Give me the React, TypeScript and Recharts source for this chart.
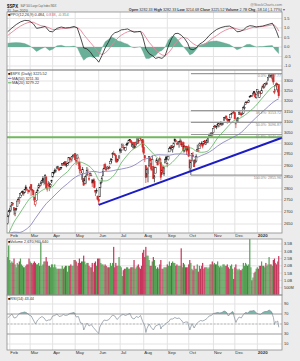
import React from 'react';
import { ComposedChart, Bar, Line, Area, XAxis, YAxis, CartesianGrid, ReferenceLine } from 'recharts';

const FONT = '"Liberation Sans", Arial, Helvetica, sans-serif';

// trading-day index: 0 = 30-Jan-2019 ... 253 = 31-Jan-2020
const monthTicks = [2, 21, 42, 63, 85, 105, 127, 149, 169, 192, 212, 233];
const monthLabels = ['Feb', 'Mar', 'Apr', 'May', 'Jun', 'Jul', 'Aug', 'Sep', 'Oct', 'Nov', 'Dec', '2020'];

const opens = [
  2653, 2685,
  2702, 2706, 2728, 2735, 2717, 2693, 2713, 2722, 2751, 2744, 2760, 2770, 2780, 2781, 2780, 2805, 2792, 2787, 2789,
  2798, 2815, 2795, 2791, 2762, 2731, 2747, 2787, 2800, 2811, 2811, 2822, 2841, 2832, 2819, 2848, 2797, 2812, 2820, 2809, 2829,
  2848, 2868, 2876, 2874, 2885, 2888, 2886, 2882, 2891, 2901, 2908, 2912, 2916, 2904, 2899, 2910, 2935, 2928, 2925, 2941, 2938,
  2952, 2922, 2929, 2908, 2913, 2880, 2860, 2863, 2841, 2821, 2820, 2856, 2858, 2841, 2855, 2856, 2836, 2833, 2830, 2790, 2786, 2766,
  2752, 2763, 2818, 2828, 2853, 2886, 2903, 2882, 2886, 2887, 2889, 2906, 2920, 2949, 2953, 2951, 2945, 2926, 2919, 2932,
  2972, 2965, 2979, 2985, 2980, 2966, 2989, 2999, 3003, 3018, 3013, 3006, 2979, 3004, 2981, 2995, 2999, 3017, 3013, 3024, 3007, 3017,
  2981, 2943, 2898, 2862, 2858, 2897, 2931, 2907, 2880, 2895, 2846, 2865, 2913, 2919, 2923, 2931, 2911, 2866, 2893, 2862, 2910, 2937,
  2909, 2925, 2960, 2980, 2988, 2971, 2982, 3019, 3012, 2996, 2996, 3002, 3010, 3009, 2984, 3002, 2969, 2985, 2985, 2968,
  2983, 2924, 2885, 2918, 2945, 2920, 2912, 2919, 2963, 2966, 2974, 2990, 3000, 2997, 2996, 3011, 2994, 3015, 3004, 3033, 3036, 3039, 3047,
  3050, 3078, 3081, 3075, 3088, 3082, 3081, 3089, 3084, 3090, 3108, 3118, 3128, 3114, 3108, 3112, 3118, 3135, 3145, 3148,
  3144, 3087, 3103, 3119, 3134, 3141, 3136, 3135, 3141, 3167, 3183, 3195, 3196, 3193, 3223, 3227, 3226, 3227, 3248, 3240, 3216,
  3245, 3227, 3218, 3242, 3238, 3266, 3281, 3271, 3285, 3283, 3303, 3323, 3321, 3330, 3315, 3334, 3248, 3255, 3289, 3256, 3282,
];
const highs = [
  2690, 2708,
  2716, 2725, 2738, 2739, 2719, 2709, 2718, 2748, 2762, 2761, 2776, 2788, 2790, 2787, 2794, 2814, 2803, 2795, 2792,
  2809, 2816, 2796, 2791, 2763, 2744, 2785, 2798, 2821, 2815, 2830, 2836, 2852, 2844, 2861, 2852, 2809, 2830, 2826, 2820, 2836,
  2869, 2872, 2886, 2881, 2893, 2896, 2891, 2889, 2893, 2910, 2909, 2916, 2918, 2908, 2910, 2937, 2936, 2933, 2940, 2949, 2949,
  2955, 2932, 2948, 2938, 2913, 2898, 2875, 2892, 2841, 2852, 2858, 2892, 2885, 2853, 2868, 2865, 2836, 2841, 2841, 2792, 2799, 2768,
  2763, 2804, 2827, 2852, 2885, 2905, 2911, 2888, 2896, 2894, 2898, 2931, 2931, 2958, 2965, 2955, 2947, 2932, 2929, 2943,
  2978, 2973, 2996, 2994, 2981, 2981, 3002, 3003, 3014, 3018, 3015, 3006, 2998, 3006, 2990, 3005, 3020, 3017, 3028, 3025, 3018, 3017,
  3013, 2945, 2898, 2885, 2892, 2938, 2936, 2911, 2944, 2895, 2857, 2893, 2932, 2923, 2928, 2939, 2928, 2880, 2899, 2891, 2931, 2941,
  2914, 2939, 2985, 2985, 2990, 2980, 3001, 3021, 3017, 3003, 3006, 3008, 3022, 3016, 2999, 3007, 2990, 2988, 2988, 2984,
  2993, 2925, 2911, 2953, 2960, 2926, 2929, 2949, 2993, 2972, 3003, 2998, 3008, 3000, 3007, 3014, 3005, 3016, 3028, 3044, 3047, 3050, 3047,
  3067, 3085, 3084, 3079, 3098, 3094, 3088, 3102, 3099, 3098, 3121, 3124, 3128, 3119, 3111, 3113, 3134, 3142, 3154, 3151,
  3144, 3094, 3120, 3120, 3150, 3149, 3143, 3143, 3177, 3183, 3198, 3198, 3198, 3206, 3226, 3227, 3226, 3240, 3248, 3241, 3232,
  3258, 3247, 3247, 3245, 3268, 3275, 3283, 3288, 3294, 3299, 3317, 3338, 3329, 3337, 3326, 3334, 3259, 3286, 3293, 3286, 3282,
];
const lows = [
  2648, 2678,
  2696, 2700, 2724, 2725, 2687, 2682, 2704, 2722, 2749, 2733, 2757, 2768, 2775, 2767, 2780, 2794, 2789, 2775, 2781,
  2790, 2767, 2782, 2768, 2729, 2722, 2746, 2786, 2799, 2804, 2809, 2821, 2823, 2812, 2817, 2800, 2785, 2809, 2787, 2799, 2822,
  2848, 2859, 2865, 2867, 2883, 2880, 2875, 2879, 2881, 2898, 2897, 2900, 2895, 2891, 2898, 2910, 2926, 2912, 2917, 2939, 2932,
  2924, 2901, 2929, 2898, 2863, 2873, 2836, 2826, 2811, 2821, 2816, 2856, 2854, 2831, 2855, 2852, 2805, 2820, 2799, 2766, 2777, 2750,
  2729, 2763, 2801, 2822, 2853, 2884, 2878, 2874, 2883, 2880, 2887, 2905, 2911, 2932, 2946, 2944, 2911, 2912, 2918, 2930,
  2953, 2955, 2978, 2967, 2970, 2963, 2985, 2989, 3002, 3010, 3002, 2984, 2976, 2975, 2977, 2988, 2996, 2996, 3013, 3014, 3000, 2959,
  2946, 2914, 2822, 2847, 2825, 2891, 2900, 2874, 2877, 2839, 2825, 2865, 2913, 2900, 2917, 2905, 2834, 2857, 2860, 2853, 2910, 2914,
  2891, 2921, 2960, 2972, 2966, 2957, 2981, 3004, 3003, 2991, 2993, 2979, 3003, 2985, 2983, 2957, 2958, 2970, 2946, 2968,
  2938, 2874, 2856, 2918, 2938, 2892, 2907, 2913, 2963, 2960, 2974, 2986, 2992, 2976, 2995, 2995, 2991, 3000, 3002, 3032, 3034, 3026, 3024,
  3050, 3074, 3072, 3065, 3080, 3073, 3076, 3085, 3083, 3084, 3105, 3112, 3112, 3091, 3095, 3097, 3118, 3132, 3143, 3140,
  3111, 3070, 3103, 3099, 3134, 3135, 3125, 3133, 3138, 3159, 3183, 3191, 3191, 3192, 3217, 3222, 3221, 3227, 3235, 3216, 3212,
  3235, 3226, 3215, 3233, 3236, 3264, 3260, 3268, 3277, 3282, 3302, 3319, 3316, 3320, 3302, 3281, 3234, 3253, 3272, 3243, 3215,
];
const closes = [
  2681, 2704,
  2707, 2725, 2738, 2732, 2706, 2708, 2710, 2745, 2753, 2746, 2776, 2780, 2785, 2775, 2793, 2796, 2794, 2792, 2784,
  2804, 2793, 2790, 2771, 2749, 2743, 2783, 2792, 2811, 2808, 2822, 2833, 2833, 2824, 2855, 2801, 2798, 2818, 2805, 2815, 2834,
  2867, 2867, 2873, 2879, 2893, 2896, 2878, 2888, 2888, 2907, 2906, 2907, 2900, 2905, 2908, 2934, 2927, 2926, 2940, 2943, 2946,
  2924, 2918, 2946, 2932, 2884, 2879, 2871, 2881, 2812, 2834, 2851, 2876, 2860, 2840, 2864, 2856, 2822, 2826, 2802, 2783, 2789, 2752,
  2744, 2803, 2826, 2843, 2873, 2887, 2886, 2880, 2892, 2887, 2890, 2918, 2926, 2954, 2950, 2945, 2917, 2914, 2925, 2942,
  2964, 2973, 2996, 2990, 2976, 2980, 2993, 3000, 3014, 3014, 3004, 2984, 2995, 2977, 2985, 3005, 3020, 3004, 3026, 3021, 3013, 2980,
  2954, 2932, 2845, 2882, 2884, 2938, 2919, 2883, 2926, 2841, 2848, 2889, 2924, 2901, 2924, 2923, 2847, 2878, 2869, 2888, 2925, 2926,
  2906, 2938, 2976, 2979, 2978, 2979, 3001, 3010, 3007, 2998, 3006, 3007, 3007, 2992, 2992, 2967, 2985, 2978, 2962, 2977,
  2940, 2888, 2911, 2952, 2939, 2893, 2919, 2938, 2970, 2966, 2996, 2990, 2998, 2986, 3007, 2996, 3005, 3010, 3023, 3039, 3037, 3047, 3038,
  3067, 3078, 3075, 3077, 3085, 3093, 3087, 3092, 3094, 3097, 3120, 3122, 3120, 3108, 3104, 3110, 3134, 3141, 3154, 3141,
  3114, 3093, 3113, 3117, 3146, 3136, 3133, 3142, 3169, 3169, 3191, 3193, 3191, 3205, 3221, 3224, 3223, 3240, 3240, 3221, 3231,
  3258, 3235, 3246, 3237, 3253, 3275, 3265, 3288, 3283, 3289, 3317, 3330, 3321, 3322, 3326, 3295, 3244, 3276, 3273, 3284, 3226,
];
// volume in billions
const volumes = [
  2.6, 3.4,
  2.4, 2.2, 2.3, 2.2, 2.5, 2.1, 1.9, 2.2, 2.1, 2.3, 2.5, 2.1, 2.0, 1.9, 1.9, 2.0, 2.1, 2.1, 2.5,
  2.3, 2.2, 2.1, 2.2, 2.3, 2.2, 2.1, 2.1, 2.2, 2.0, 3.6, 2.0, 2.1, 2.3, 2.3, 2.6, 2.3, 2.0, 2.0, 1.9, 2.1,
  2.1, 1.9, 2.1, 1.9, 1.8, 1.8, 1.8, 1.8, 1.8, 2.0, 1.8, 1.9, 2.0, 2.0, 1.6, 2.0, 2.0, 2.1, 2.0, 2.0, 2.4,
  2.4, 2.3, 2.0, 2.2, 2.5, 2.2, 2.3, 2.3, 2.7, 2.3, 2.1, 2.2, 2.2, 2.0, 1.9, 1.9, 2.2, 1.6, 2.2, 2.3, 2.0, 2.5,
  2.5, 2.5, 2.2, 2.1, 2.1, 2.0, 2.1, 2.0, 1.9, 1.9, 1.9, 2.2, 2.0, 2.2, 3.3, 1.9, 2.2, 2.0, 2.0, 2.6,
  2.0, 1.9, 1.3, 1.7, 1.8, 1.8, 1.9, 1.9, 1.8, 1.8, 1.9, 1.9, 1.9, 2.4, 1.8, 1.9, 2.0, 2.1, 1.9, 1.8, 2.0, 2.9,
  3.1, 2.6, 3.3, 2.7, 2.7, 2.4, 2.0, 2.0, 2.3, 2.6, 2.4, 2.0, 1.8, 1.9, 1.8, 2.1, 2.4, 1.8, 1.8, 1.9, 1.9, 1.9,
  2.1, 2.0, 2.3, 2.0, 2.2, 2.3, 2.2, 2.2, 2.0, 2.1, 2.0, 2.0, 2.0, 3.2, 1.9, 2.2, 2.1, 1.9, 1.9, 1.9,
  2.1, 2.4, 2.2, 1.8, 1.7, 2.0, 1.8, 1.8, 2.1, 1.6, 2.0, 1.8, 2.0, 2.2, 1.8, 1.9, 1.9, 1.9, 1.8, 1.9, 2.1, 2.1, 2.3,
  2.1, 2.2, 2.1, 2.1, 2.3, 2.0, 1.9, 2.0, 1.9, 2.1, 2.1, 2.0, 2.0, 2.1, 1.9, 1.8, 2.0, 2.1, 1.8, 1.1,
  1.9, 2.1, 1.8, 1.7, 1.8, 1.7, 1.7, 1.8, 2.2, 2.0, 2.2, 2.1, 2.0, 2.1, 3.9, 1.9, 1.0, 1.2, 1.5, 1.6, 1.8,
  1.9, 1.8, 2.0, 2.0, 2.3, 2.0, 2.0, 1.9, 2.2, 2.0, 2.1, 2.6, 2.1, 2.1, 2.0, 2.4, 2.5, 2.2, 2.1, 2.3, 2.67,
];

// moving averages (read every 5 sessions)
const maDays = [1, 6, 11, 16, 21, 26, 31, 36, 41, 46, 51, 56, 61, 66, 71, 76, 81, 86, 91, 96, 101, 106, 111, 116, 121, 126, 131, 136, 141, 146, 151, 156, 161, 166, 171, 176, 181, 186, 191, 196, 201, 206, 211, 216, 221, 226, 231, 236, 241, 246, 251, 253];
const ma20Values = [2612, 2658, 2691, 2726, 2757, 2769, 2787, 2799, 2804, 2830, 2853, 2872, 2902, 2916, 2909, 2896, 2871, 2831, 2831, 2841, 2867, 2910, 2941, 2968, 2983, 2999, 2977, 2951, 2927, 2895, 2903, 2925, 2952, 2978, 2978, 2963, 2958, 2962, 2988, 3025, 3052, 3080, 3105, 3115, 3130, 3151, 3174, 3205, 3236, 3265, 3278, 3279];
const ma50Values = [2611, 2617, 2616, 2625, 2643, 2674, 2705, 2734, 2756, 2779, 2801, 2820, 2840, 2855, 2862, 2870, 2873, 2868, 2873, 2874, 2879, 2883, 2888, 2895, 2908, 2924, 2931, 2943, 2947, 2946, 2945, 2950, 2951, 2949, 2943, 2935, 2944, 2954, 2968, 2987, 3003, 3016, 3029, 3042, 3064, 3091, 3116, 3140, 3163, 3187, 3206, 3211];

// PPO(12,26,9)
const ppoDays = [0, 4, 8, 12, 16, 20, 24, 27, 31, 35, 39, 42, 46, 50, 54, 58, 62, 65, 68, 71, 74, 77, 80, 83, 85, 88, 91, 94, 97, 100, 103, 106, 109, 112, 115, 118, 121, 124, 126, 129, 132, 135, 138, 141, 144, 147, 150, 153, 156, 159, 162, 165, 168, 170, 173, 176, 179, 182, 185, 188, 191, 195, 199, 203, 207, 211, 214, 217, 220, 223, 226, 229, 232, 235, 238, 241, 244, 247, 249, 251, 253];
const ppoValues = [0.80, 1.00, 1.18, 1.32, 1.40, 1.38, 1.22, 0.98, 1.02, 1.08, 0.82, 0.80, 0.98, 1.05, 1.00, 1.02, 1.08, 1.00, 0.50, -0.05, -0.10, -0.25, -0.50, -0.65, -0.80, -0.45, -0.05, 0.25, 0.60, 0.75, 0.80, 0.90, 0.92, 0.95, 0.85, 0.78, 0.80, 0.82, 0.55, -0.10, -0.35, -0.45, -0.60, -0.55, -0.60, -0.45, 0.05, 0.45, 0.70, 0.72, 0.62, 0.45, 0.20, -0.10, -0.15, -0.05, 0.15, 0.25, 0.40, 0.60, 0.75, 0.92, 1.02, 1.08, 1.10, 0.98, 0.80, 0.82, 0.90, 1.05, 1.12, 1.10, 1.05, 1.08, 1.10, 1.15, 1.20, 1.25, 1.05, 0.80, 0.484];
const ppoSignal = [0.60, 0.78, 0.95, 1.10, 1.22, 1.30, 1.30, 1.22, 1.12, 1.08, 1.00, 0.92, 0.92, 0.96, 0.98, 1.00, 1.03, 1.03, 0.90, 0.65, 0.45, 0.25, 0.05, -0.15, -0.30, -0.40, -0.32, -0.15, 0.08, 0.30, 0.48, 0.62, 0.72, 0.80, 0.84, 0.82, 0.81, 0.81, 0.76, 0.50, 0.25, 0.05, -0.15, -0.30, -0.42, -0.45, -0.32, -0.10, 0.15, 0.35, 0.48, 0.50, 0.45, 0.32, 0.18, 0.08, 0.05, 0.10, 0.20, 0.32, 0.45, 0.60, 0.76, 0.88, 0.97, 1.00, 0.95, 0.90, 0.88, 0.92, 0.98, 1.03, 1.05, 1.06, 1.08, 1.10, 1.13, 1.17, 1.15, 1.03, 0.838];
const ppoHist = [0.20, 0.22, 0.23, 0.22, 0.18, 0.08, -0.08, -0.24, -0.10, 0.00, -0.18, -0.12, 0.06, 0.09, 0.02, 0.02, 0.05, -0.03, -0.40, -0.70, -0.55, -0.50, -0.55, -0.50, -0.50, -0.05, 0.27, 0.40, 0.52, 0.45, 0.32, 0.28, 0.20, 0.15, 0.01, -0.04, -0.01, 0.01, -0.21, -0.60, -0.60, -0.50, -0.45, -0.25, -0.18, 0.00, 0.37, 0.55, 0.55, 0.37, 0.14, -0.05, -0.25, -0.42, -0.33, -0.13, 0.10, 0.15, 0.20, 0.28, 0.30, 0.32, 0.26, 0.20, 0.13, -0.02, -0.15, -0.08, 0.02, 0.13, 0.14, 0.07, 0.00, 0.02, 0.02, 0.05, 0.07, 0.08, -0.10, -0.23, -0.354];

// RSI(14)
const rsiDays = [0, 2, 4, 6, 8, 10, 12, 14, 16, 18, 20, 22, 24, 26, 28, 30, 32, 34, 36, 38, 40, 42, 44, 46, 48, 50, 52, 54, 56, 58, 60, 62, 64, 66, 68, 70, 71, 72, 74, 76, 78, 80, 82, 84, 85, 86, 88, 90, 92, 94, 96, 98, 100, 102, 104, 106, 108, 110, 112, 114, 116, 118, 120, 122, 124, 126, 128, 129, 130, 132, 134, 136, 138, 140, 142, 143, 144, 146, 148, 150, 152, 154, 156, 158, 160, 162, 164, 166, 168, 170, 172, 174, 176, 178, 180, 182, 184, 186, 188, 190, 192, 194, 196, 198, 200, 202, 204, 206, 208, 210, 212, 213, 214, 216, 218, 220, 222, 224, 226, 228, 230, 232, 234, 236, 238, 240, 242, 244, 246, 248, 249, 250, 251, 252, 253];
const rsiValues = [62, 66, 70, 62, 63, 69, 72, 73, 74, 72, 68, 66, 58, 50, 58, 62, 65, 62, 56, 58, 58, 66, 67, 70, 65, 66, 69, 67, 68, 71, 72, 73, 64, 65, 52, 51, 38, 43, 52, 46, 49, 43, 38, 33, 31, 44, 52, 58, 57, 58, 63, 68, 66, 59, 63, 68, 69, 67, 69, 71, 62, 60, 65, 63, 67, 55, 46, 33, 41, 50, 43, 38, 46, 48, 50, 40, 45, 47, 52, 54, 60, 60, 63, 61, 62, 58, 52, 54, 54, 38, 51, 42, 50, 54, 57, 56, 58, 61, 66, 67, 71, 72, 73, 72, 73, 76, 74, 66, 72, 75, 60, 53, 58, 64, 62, 69, 73, 72, 76, 76, 77, 72, 70, 69, 73, 75, 75, 78, 75, 63, 49, 55, 54, 56, 43.44];

const priceTicks = [2650, 2700, 2750, 2800, 2850, 2900, 2950, 3000, 3050, 3100, 3150, 3200, 3250, 3300];
const ppoTicks = [-1, -0.5, 0, 0.5, 1, 1.5];
const volTicks = [0.5, 1, 1.5, 2, 2.5, 3, 3.5];
const rsiTicks = [10, 30, 50, 70, 90];

const fibLevels = [
  { v: 3337.77, label: '0.0%: 3337.77' },
  { v: 3153.72, label: '38.2%: 3153.72' },
  { v: 3096.87, label: '50.0%: 3096.87' },
  { v: 3040.01, label: '61.8%: 3040.01' },
  { v: 2855.96, label: '100.0%: 2855.96' },
];
const fibStart = 171; // 3-Oct-2019
const trendStart = { i: 85, v: 2729 };
const trendEnd = { i: 256, v: 3025 };
const resistance = 3027;

const X_DOMAIN = [-0.6, 256];

const data: any[] = closes.map((c, i) => ({
  i,
  open: opens[i],
  high: highs[i],
  low: lows[i],
  close: c,
  range: [lows[i], highs[i]],
  up: i === 0 ? c >= opens[i] : c >= closes[i - 1],
  vol: volumes[i],
  ma20: null,
  ma50: null,
  ppo: null,
  sig: null,
  hist: null,
  rsi: null,
  rsiHi: null,
}));
maDays.forEach((d, k) => {
  if (data[d]) {
    data[d].ma20 = ma20Values[k];
    data[d].ma50 = ma50Values[k];
  }
});
ppoDays.forEach((d, k) => {
  if (data[d]) {
    data[d].ppo = ppoValues[k];
    data[d].sig = ppoSignal[k];
    data[d].hist = ppoHist[k];
  }
});
rsiDays.forEach((d, k) => {
  if (data[d]) {
    data[d].rsi = rsiValues[k];
    data[d].rsiHi = [70, Math.max(70, rsiValues[k])];
  }
});

const UP = '#1a1a1a';
const DOWN = '#d42a2a';
const VOL_UP = '#54a054';
const VOL_DOWN = '#c8345c';

const Candle = (props: any) => {
  const { x, y, width, height } = props;
  const p = props.payload || props;
  if (x == null || y == null || !isFinite(y) || !isFinite(height)) return null;
  const top = Math.min(y, y + height);
  const bot = Math.max(y, y + height);
  const lh = Math.log(p.high);
  const ll = Math.log(p.low);
  const span = lh - ll || 1;
  const py = (v: number) => top + ((lh - Math.log(v)) / span) * (bot - top);
  const cx = x + width / 2;
  const yo = py(p.open);
  const yc = py(p.close);
  const color = p.up ? UP : DOWN;
  const bt = Math.min(yo, yc);
  const bh = Math.max(Math.abs(yo - yc), 0.7);
  const hollow = p.close >= p.open;
  return (
    <g>
      <line x1={cx} x2={cx} y1={top} y2={bot} stroke={color} strokeWidth={0.7} />
      <rect x={cx - 0.75} y={bt} width={1.5} height={bh} fill={hollow ? '#ffffff' : color} stroke={color} strokeWidth={0.45} />
    </g>
  );
};

const VolBar = (props: any) => {
  const { x, y, width, height } = props;
  const p = props.payload || props;
  if (x == null || y == null || !isFinite(height)) return null;
  const cx = x + width / 2;
  return <rect x={cx - 0.6} y={Math.min(y, y + height)} width={1.2} height={Math.abs(height)} fill={p.up ? VOL_UP : VOL_DOWN} />;
};

const MonthTick = (props: any) => {
  const { x, y, payload } = props;
  const k = monthTicks.indexOf(payload.value);
  const label = monthLabels[k] || '';
  return (
    <text x={x + 0.5} y={y + 4.3} fontSize={4.4} fill="#333" fontFamily={FONT} fontWeight={label === '2020' ? 'bold' : 'normal'}>
      {label}
    </text>
  );
};

const yTick = { fontSize: 3.9, fill: '#333', fontFamily: FONT };
const GRID = '#e3e3e3';
const MARGIN = { top: 0, right: 0, bottom: 0, left: 7 };

function PPOPanel() {
  return (
    <ComposedChart width={300} height={58} data={data} margin={MARGIN}>
      <CartesianGrid stroke={GRID} horizontalValues={ppoTicks} verticalValues={monthTicks} />
      <XAxis dataKey="i" type="number" domain={X_DOMAIN} ticks={monthTicks} hide allowDataOverflow />
      <YAxis orientation="right" width={18} type="number" domain={[-1.21, 1.84]} ticks={ppoTicks} interval={0} allowDataOverflow
        tick={yTick} tickSize={0} tickMargin={2} axisLine={false} tickLine={false} tickFormatter={(v: number) => v.toFixed(1)} />
      <Area dataKey="hist" type="linear" connectNulls baseValue={0} fill="#5aa78e" fillOpacity={0.9} stroke="#4b9880" strokeWidth={0.3} isAnimationActive={false} />
      <Line dataKey="sig" type="linear" connectNulls dot={false} stroke="#e3869a" strokeWidth={0.9} isAnimationActive={false} />
      <Line dataKey="ppo" type="linear" connectNulls dot={false} stroke="#222" strokeWidth={0.8} isAnimationActive={false} />
    </ComposedChart>
  );
}

function PricePanel() {
  return (
    <ComposedChart width={300} height={169} data={data} margin={MARGIN}>
      <CartesianGrid stroke={GRID} horizontalValues={priceTicks} verticalValues={monthTicks} />
      <XAxis dataKey="i" type="number" domain={X_DOMAIN} ticks={monthTicks} interval={0} allowDataOverflow height={6}
        axisLine={false} tickLine={false} tickSize={0} tickMargin={0} tick={<MonthTick />} />
      <YAxis orientation="right" width={18} type="number" scale="log" domain={[2613.7, 3356.2]} ticks={priceTicks} interval={0} allowDataOverflow
        tick={yTick} tickSize={0} tickMargin={2} axisLine={false} tickLine={false} />
      <ReferenceLine y={resistance} stroke="#72b85e" strokeWidth={2} />
      {fibLevels.map((f) => (
        <ReferenceLine key={f.label} segment={[{ x: fibStart, y: f.v }, { x: X_DOMAIN[1], y: f.v }]} stroke="#9a9a9a" strokeWidth={1.2}
          label={{ value: f.label, position: 'insideTopRight', fontSize: 3.6, fill: '#888', offset: 1 }} />
      ))}
      <Line dataKey="ma50" type="monotone" connectNulls dot={false} stroke="#7d78b8" strokeWidth={0.8} isAnimationActive={false} />
      <Line dataKey="ma20" type="monotone" connectNulls dot={false} stroke="#5cb35c" strokeWidth={0.8} isAnimationActive={false} />
      <Bar dataKey="range" barSize={2} shape={<Candle />} isAnimationActive={false} />
      <ReferenceLine segment={[{ x: trendStart.i, y: trendStart.v }, { x: trendEnd.i, y: trendEnd.v }]} stroke="#1c1cc4" strokeWidth={2} />
    </ComposedChart>
  );
}

function VolumePanel() {
  return (
    <ComposedChart width={300} height={56} data={data} margin={MARGIN}>
      <CartesianGrid stroke={GRID} horizontalValues={volTicks} verticalValues={monthTicks} />
      <XAxis dataKey="i" type="number" domain={X_DOMAIN} ticks={monthTicks} hide allowDataOverflow />
      <YAxis orientation="right" width={18} type="number" domain={[0, 3.84]} ticks={volTicks} interval={0} allowDataOverflow
        tick={yTick} tickSize={0} tickMargin={2} axisLine={false} tickLine={false}
        tickFormatter={(v: number) => (v < 1 ? `${Math.round(v * 1000)}M` : `${v.toFixed(1)}B`)} />
      <Bar dataKey="vol" barSize={1.2} shape={<VolBar />} isAnimationActive={false} />
    </ComposedChart>
  );
}

function RSIPanel() {
  return (
    <ComposedChart width={300} height={63} data={data} margin={MARGIN}>
      <CartesianGrid stroke={GRID} horizontalValues={rsiTicks} verticalValues={monthTicks} />
      <XAxis dataKey="i" type="number" domain={X_DOMAIN} ticks={monthTicks} interval={0} allowDataOverflow height={8}
        axisLine={false} tickLine={false} tickSize={0} tickMargin={0} tick={<MonthTick />} />
      <YAxis orientation="right" width={18} type="number" domain={[-2, 108]} ticks={rsiTicks} interval={0} allowDataOverflow
        tick={yTick} tickSize={0} tickMargin={2} axisLine={false} tickLine={false} />
      <ReferenceLine y={70} stroke="#9a9a9a" strokeWidth={0.8} />
      <ReferenceLine y={30} stroke="#9a9a9a" strokeWidth={0.8} />
      <ReferenceLine y={50} stroke="#9a9a9a" strokeWidth={0.6} strokeDasharray="2 1.5" />
      <Area dataKey="rsiHi" type="linear" connectNulls fill="#62ac9c" fillOpacity={0.85} stroke="none" isAnimationActive={false} />
      <Line dataKey="rsi" type="linear" connectNulls dot={false} stroke="#7f8c98" strokeWidth={0.7} isAnimationActive={false} />
    </ComposedChart>
  );
}

const panels = [
  { top: 12, h: 58 },
  { top: 70, h: 163 },
  { top: 239, h: 56 },
  { top: 295, h: 55 },
];

export default function App() {
  return (
    <div style={{ position: 'absolute', left: 0, top: 0, width: 300, height: 361, background: '#ececec', overflow: 'hidden', fontFamily: FONT }}>
      {panels.map((p, k) => (
        <div key={k} style={{ position: 'absolute', left: 7, top: p.top, width: 275, height: p.h, background: '#ffffff' }} />
      ))}
      <div style={{ position: 'absolute', left: 0, top: 12 }}><PPOPanel /></div>
      <div style={{ position: 'absolute', left: 0, top: 70 }}><PricePanel /></div>
      <div style={{ position: 'absolute', left: 0, top: 239 }}><VolumePanel /></div>
      <div style={{ position: 'absolute', left: 0, top: 295 }}><RSIPanel /></div>
      <svg width={300} height={361} style={{ position: 'absolute', left: 0, top: 0, pointerEvents: 'none' }} fontFamily={FONT}>
        {panels.map((p, k) => (
          <rect key={k} x={7} y={p.top} width={275} height={p.h} fill="none" stroke="#8c8c8c" strokeWidth={0.8} />
        ))}
        {/* header */}
        <text x={7} y={7.6} fontSize={6} fontWeight="bold" fill="#111" textLength={11} lengthAdjust="spacingAndGlyphs">$SPX</text>
        <text x={20.5} y={7.2} fontSize={3.7} fill="#555" textLength={36} lengthAdjust="spacingAndGlyphs">S&amp;P 500 Large Cap Index INDX</text>
        <text x={7} y={11.6} fontSize={3.7} fill="#444">31-Jan-2020</text>
        <text x={282} y={6.2} fontSize={3.7} fill="#777" textAnchor="end">@StockCharts.com</text>
        <text x={282} y={11.4} fontSize={3.7} fill="#333" textAnchor="end">
          <tspan fontWeight="bold">Open</tspan> 3282.33 <tspan fontWeight="bold">High</tspan> 3282.33 <tspan fontWeight="bold">Low</tspan> 3214.68 <tspan fontWeight="bold">Close</tspan> 3225.52 <tspan fontWeight="bold">Volume</tspan> 2.7B <tspan fontWeight="bold">Chg</tspan> -58.14 (-1.77%)
        </text>
        <text x={283} y={11.4} fontSize={3.7} fill="#c0392b">▾</text>
        {/* PPO legend */}
        <text x={8} y={15.8} fontSize={3.8} fill="#333">
          <tspan fill="#111">■</tspan>PPO(12,26,9) 0.484, <tspan fill="#d95b70">0.838</tspan>, <tspan fill="#3f9c7f">-0.354</tspan>
        </text>
        {/* price legend */}
        <text x={8} y={75.2} fontSize={3.8} fill="#333"><tspan fill="#111">■</tspan>$SPX (Daily) 3225.52</text>
        <line x1={8} x2={11.5} y1={78.4} y2={78.4} stroke="#7d78b8" strokeWidth={1} />
        <text x={12} y={79.6} fontSize={3.8} fill="#333">MA(50) 3211.30</text>
        <line x1={8} x2={11.5} y1={82.8} y2={82.8} stroke="#5cb35c" strokeWidth={1} />
        <text x={12} y={84} fontSize={3.8} fill="#333">MA(20) 3279.22</text>
        {/* volume legend */}
        <text x={8} y={243} fontSize={3.8} fill="#333"><tspan fill="#111">■</tspan>Volume 2,670,960,640</text>
        {/* RSI legend */}
        <text x={8} y={299.5} fontSize={3.8} fill="#333"><tspan fill="#111">■</tspan>RSI(14) 43.44</text>
      </svg>
    </div>
  );
}
